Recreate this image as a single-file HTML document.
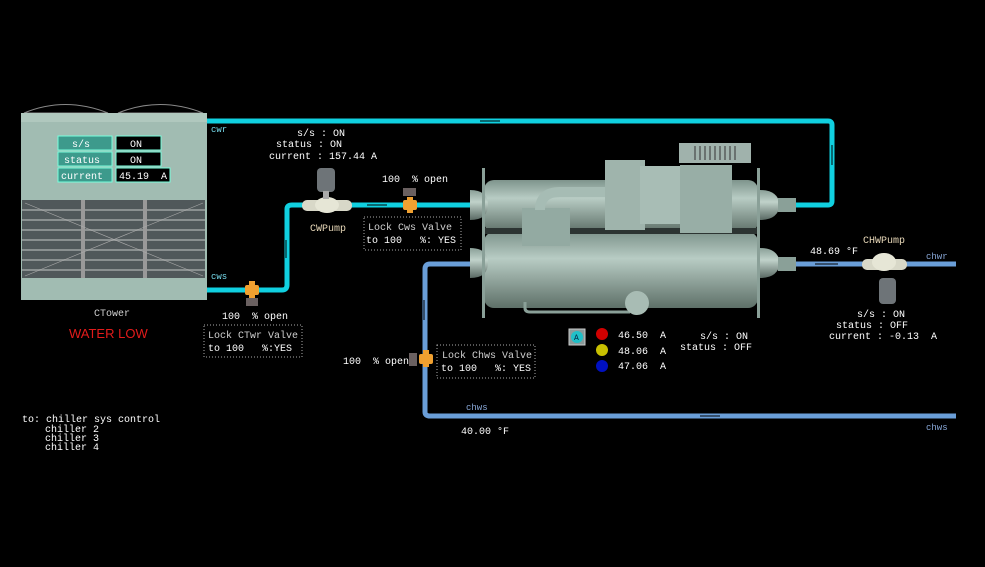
<!DOCTYPE html>
<html><head><meta charset="utf-8"><style>
html,body{margin:0;padding:0;background:#000;width:985px;height:567px;overflow:hidden}
svg{display:block}
text{font-family:"Liberation Mono","DejaVu Sans Mono",monospace;font-size:10px;fill:#fff;white-space:pre}
.g{fill:#d0d0d0}
</style></head><body>
<svg width="985" height="567" viewBox="0 0 985 567" xml:space="preserve">
<defs>
<linearGradient id="shell" x1="0" y1="0" x2="0" y2="1">
<stop offset="0" stop-color="#7e948c"/><stop offset="0.35" stop-color="#b8ccc4"/><stop offset="1" stop-color="#5e7068"/>
</linearGradient>
<linearGradient id="bell" x1="0" y1="0" x2="0" y2="1">
<stop offset="0" stop-color="#8aa098"/><stop offset="0.4" stop-color="#c0d2ca"/><stop offset="1" stop-color="#5a6a64"/>
</linearGradient>
</defs>

<path d="M24 113 Q65 96 108 113 Z" fill="none" stroke="#888" stroke-width="1"/>
<path d="M118 113 Q160 96 203 113 Z" fill="none" stroke="#888" stroke-width="1"/>
<rect x="21" y="113" width="186" height="187" fill="#a1bcb2"/>
<rect x="21" y="113" width="186" height="9" fill="#b0c8be"/>
<rect x="22" y="200" width="183" height="78" fill="#50585a"/>
<g stroke="#8a9090" stroke-width="2">
<line x1="22" y1="210" x2="205" y2="210"/><line x1="22" y1="220" x2="205" y2="220"/><line x1="22" y1="230" x2="205" y2="230"/><line x1="22" y1="240" x2="205" y2="240"/><line x1="22" y1="250" x2="205" y2="250"/><line x1="22" y1="260" x2="205" y2="260"/><line x1="22" y1="270" x2="205" y2="270"/>
</g>
<rect x="81" y="200" width="4" height="78" fill="#999"/><rect x="143" y="200" width="4" height="78" fill="#999"/>
<line x1="25" y1="203" x2="203" y2="276" stroke="#aaa" stroke-width="0.6"/><line x1="25" y1="276" x2="203" y2="203" stroke="#aaa" stroke-width="0.6"/>
<rect x="58" y="136" width="54" height="14" fill="#3d9a8c" stroke="#7fd" stroke-width="1"/>
<rect x="58" y="152" width="54" height="14" fill="#3d9a8c" stroke="#7fd" stroke-width="1"/>
<rect x="58" y="168" width="54" height="14" fill="#3d9a8c" stroke="#7fd" stroke-width="1"/>
<rect x="116" y="136" width="45" height="14" fill="#000" stroke="#7fd"/>
<rect x="116" y="152" width="45" height="14" fill="#000" stroke="#7fd"/>
<rect x="116" y="168" width="54" height="14" fill="#000" stroke="#7fd"/>
<text x="72" y="147" fill="#8ee">s/s</text><text x="64" y="163" fill="#8ee">status</text><text x="61" y="179" fill="#8ee">current</text>
<text x="130" y="147">ON</text><text x="130" y="163">ON</text><text x="119" y="179">45.19  A</text>
<text x="94" y="316" class="g">CTower</text>
<text x="69" y="338" style="font-family:'Liberation Sans',sans-serif;font-size:13px;fill:#e21b1b">WATER LOW</text>

<g fill="none" stroke="#10d0e0" stroke-width="5" stroke-linejoin="round">
<path d="M207 121 H828 Q832 121 832 125 V201 Q832 205 828 205 H795"/>
<path d="M207 290 H282 Q287 290 287 285 V209 Q287 205 292 205 H485"/>
</g>
<g stroke="#000" stroke-width="1"><line x1="480" y1="121" x2="500" y2="121"/><line x1="367" y1="205" x2="387" y2="205"/><line x1="286" y1="240" x2="286" y2="258"/><line x1="832" y1="145" x2="832" y2="165"/></g>
<text x="211" y="132" style="font-size:9px;fill:#7de">cwr</text>
<text x="211" y="279" style="font-size:9px;fill:#7de">cws</text>

<g fill="none" stroke="#6a9ed8" stroke-width="5" stroke-linejoin="round">
<path d="M485 264 H430 Q425 264 425 269 V412 Q425 416 430 416 H956"/>
<path d="M795 264 H956"/>
</g>
<g stroke="#000" stroke-width="1"><line x1="424" y1="300" x2="424" y2="320"/><line x1="700" y1="416" x2="720" y2="416"/><line x1="815" y1="264" x2="838" y2="264"/></g>
<text x="926" y="259" style="font-size:9px;fill:#89a8d8">chwr</text>
<text x="926" y="430" style="font-size:9px;fill:#89a8d8">chws</text>
<text x="466" y="410" style="font-size:9px;fill:#89a8d8">chws</text>
<text x="461" y="434">40.00 °F</text>
<text x="810" y="254">48.69 °F</text>

<rect x="484" y="180" width="274" height="52" rx="10" fill="url(#shell)"/>
<rect x="484" y="232" width="274" height="76" rx="10" fill="url(#shell)"/>
<rect x="484" y="228" width="274" height="6" fill="#2c3432"/>
<path d="M470 190 Q488 190 488 205 Q488 220 470 220 Z" fill="url(#bell)"/>
<path d="M470 248 Q488 248 488 263 Q488 278 470 278 Z" fill="url(#bell)"/>
<path d="M760 190 Q778 190 780 205 Q778 220 760 220 Z" fill="url(#bell)"/>
<path d="M760 248 Q778 248 780 263 Q778 278 760 278 Z" fill="url(#bell)"/>
<rect x="778" y="198" width="18" height="14" fill="#8aa098"/>
<rect x="778" y="257" width="18" height="14" fill="#8aa098"/>
<rect x="482" y="168" width="3" height="150" fill="#8aa098"/>
<rect x="757" y="168" width="3" height="150" fill="#8aa098"/>
<rect x="522" y="208" width="48" height="38" fill="#93aaa2"/>
<path d="M540 210 Q540 192 560 192 H610" fill="none" stroke="#a6bcb4" stroke-width="10"/>
<rect x="605" y="160" width="40" height="70" fill="#9fb4ac"/>
<rect x="640" y="166" width="42" height="58" fill="#a8bdb5"/>
<rect x="680" y="165" width="52" height="68" fill="#98aea6"/>
<rect x="679" y="143" width="72" height="20" fill="#a0b2ac"/>
<g stroke="#333" stroke-width="1"><line x1="695" y1="146" x2="695" y2="160"/><line x1="700" y1="146" x2="700" y2="160"/><line x1="705" y1="146" x2="705" y2="160"/><line x1="710" y1="146" x2="710" y2="160"/><line x1="715" y1="146" x2="715" y2="160"/><line x1="720" y1="146" x2="720" y2="160"/><line x1="725" y1="146" x2="725" y2="160"/><line x1="730" y1="146" x2="730" y2="160"/><line x1="735" y1="146" x2="735" y2="160"/></g>
<path d="M525 302 V308 Q525 312 530 312 H630" fill="none" stroke="#8aa098" stroke-width="3"/>
<circle cx="637" cy="303" r="12" fill="#a8bcb4"/>

<rect x="302" y="200" width="50" height="11" rx="5" fill="#d8d8c8"/>
<ellipse cx="327" cy="205" rx="12" ry="8" fill="#e6e6d6"/>
<rect x="317" y="168" width="18" height="24" rx="4" fill="#6e7478"/>
<rect x="323" y="191" width="6" height="8" fill="#aaa"/>
<text x="310" y="231" style="fill:#e8d8b8">CWPump</text>
<rect x="862" y="259" width="45" height="11" rx="5" fill="#d8d8c8"/>
<ellipse cx="884" cy="262" rx="12" ry="9" fill="#e6e6d6"/>
<rect x="879" y="278" width="17" height="26" rx="4" fill="#6e7478"/>
<text x="863" y="243" style="fill:#e8d8b8">CHWPump</text>
<g fill="#f0a030"><rect x="245" y="285" width="14" height="10" rx="2"/><rect x="249" y="281" width="6" height="17"/></g>
<rect x="246" y="298" width="12" height="8" fill="#6a6060"/>
<g fill="#f0a030"><rect x="403" y="200" width="14" height="10" rx="2"/><rect x="407" y="197" width="6" height="16"/></g>
<rect x="403" y="188" width="13" height="8" fill="#6a6060"/>
<g fill="#f0a030"><rect x="419" y="354" width="14" height="10" rx="2"/><rect x="423" y="350" width="6" height="17"/></g>
<rect x="409" y="353" width="8" height="13" fill="#6a6060"/>

<text x="297" y="136">s/s : ON</text>
<text x="276" y="147">status : ON</text>
<text x="269" y="159">current : 157.44 A</text>
<text x="382" y="182">100  % open</text>
<text x="222" y="319">100  % open</text>
<text x="343" y="364">100  % open</text>
<rect x="364" y="217" width="97" height="33" fill="none" stroke="#aaa" stroke-dasharray="1,2"/>
<text x="368" y="230" class="g">Lock Cws Valve</text><text x="366" y="243">to 100   %: YES</text>
<rect x="204" y="325" width="98" height="32" fill="none" stroke="#aaa" stroke-dasharray="1,2"/>
<text x="208" y="338" class="g">Lock CTwr Valve</text><text x="208" y="351">to 100   %:YES</text>
<rect x="437" y="345" width="98" height="33" fill="none" stroke="#aaa" stroke-dasharray="1,2"/>
<text x="442" y="358" class="g">Lock Chws Valve</text><text x="441" y="371">to 100   %: YES</text>

<rect x="569" y="329" width="16" height="16" fill="#8a9a9a" stroke="#ccc"/>
<circle cx="577" cy="337" r="6" fill="#1fc0c8"/><text x="574" y="340" style="font-size:8px;fill:#024">A</text>
<circle cx="602" cy="334" r="6" fill="#d00000"/>
<circle cx="602" cy="350" r="6" fill="#c8c000"/>
<circle cx="602" cy="366" r="6" fill="#0010c0"/>
<text x="618" y="338">46.50  A</text>
<text x="618" y="354">48.06  A</text>
<text x="618" y="369">47.06  A</text>
<text x="700" y="339">s/s : ON</text>
<text x="680" y="350">status : OFF</text>
<text x="857" y="317">s/s : ON</text>
<text x="836" y="328">status : OFF</text>
<text x="829" y="339">current : -0.13  A</text>

<text x="22" y="422">to: chiller sys control</text>
<text x="45" y="432">chiller 2</text>
<text x="45" y="441">chiller 3</text>
<text x="45" y="450">chiller 4</text>
</svg>
</body></html>
